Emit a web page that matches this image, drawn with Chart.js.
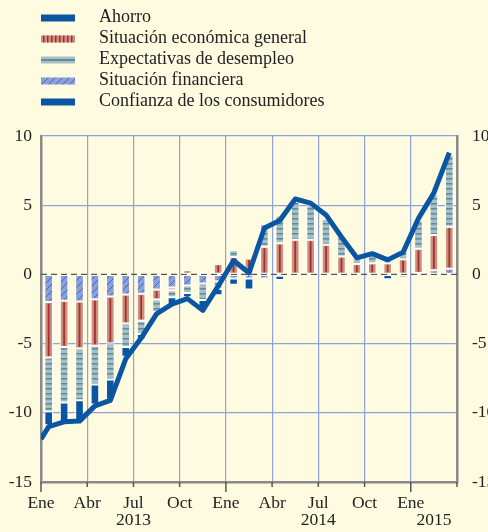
<!DOCTYPE html>
<html>
<head>
<meta charset="utf-8">
<script src="https://cdn.jsdelivr.net/npm/chart.js@4.4.1/dist/chart.umd.min.js"></script>
<style>
html, body { margin: 0; padding: 0; background: #fffbe0; overflow: hidden; }
#wrap { position: relative; width: 510px; height: 532px; }
</style>
</head>
<body>
<div id="wrap"><canvas id="myChart"></canvas></div>
<script>
// contributions, monthly Jan 2013 .. Mar 2015
const financiera = [-2.0, -1.9, -1.95, -1.8, -1.6, -1.45, -1.4, -1.1, -0.95, -0.8, -0.65, -0.5, -0.3, -0.3, -0.3, -0.1, 0, -0.1, 0, -0.15, -0.1, -0.05, 0, 0, 0.1, 0.3, 0.4];
const economica = [-4.0, -3.35, -3.4, -3.35, -3.4, -2.1, -1.95, -0.72, -0.2, 0.3, 0.2, 0.75, 1.25, 1.15, 2.0, 2.25, 2.5, 2.5, 2.15, 1.3, 0.75, 0.8, 0.8, 1.1, 1.75, 2.55, 3.05];
const desempleo = [-3.9, -4.0, -3.75, -2.8, -2.6, -1.7, -0.95, -0.9, -0.5, -0.55, -1.2, -0.55, 0.5, 0, 1.65, 2.0, 2.75, 2.5, 1.85, 1.4, 0.4, 0.7, 0.55, 0.65, 2.05, 2.95, 5.2];
const ahorro = [-1.0, -1.4, -1.45, -1.45, -1.45, -0.7, -0.4, -0.1, -0.5, -0.3, -0.6, -0.45, -0.45, -0.8, 0, -0.3, 0, 0, 0, 0, 0, 0, -0.35, -0.2, 0, 0, 0];
const confianza = [-11.0, -10.65, -10.6, -9.5, -9.1, -6.1, -4.6, -2.85, -2.15, -1.75, -2.6, -0.85, 1.0, 0.1, 3.35, 3.9, 5.45, 5.15, 4.3, 2.7, 1.2, 1.5, 1.05, 1.6, 4.05, 5.9, 8.8];
const confianzaStart = -11.9; // value where the line enters at the left edge

const tickPos = [0, 3, 6, 9, 12, 15, 18, 21, 24, 27];
const tickLabels = ['Ene', 'Abr', 'Jul', 'Oct', 'Ene', 'Abr', 'Jul', 'Oct', 'Ene', ''];
const yearPos = [6, 18, 25.5];
const yearLabels = ['2013', '2014', '2015'];
const legendNames = ['Ahorro', 'Situación económica general', 'Expectativas de desempleo', 'Situación financiera', 'Confianza de los consumidores'];

const myChart = document.getElementById('myChart').getContext('2d');

const blue = '#0b56a2';
const gridColor = '#8fa2da';
const axisColor = '#8a8a8a';
const ecoBase = '#cc8e81';
const ecoLine = '#a3322c';

function makePattern(w, h, draw) {
    const c = document.createElement('canvas');
    c.width = w; c.height = h;
    const g = c.getContext('2d');
    draw(g, w, h);
    return myChart.createPattern(c, 'repeat');
}
const desFill = makePattern(4, 5, (g, w, h) => {
    g.fillStyle = '#a7bfc7'; g.fillRect(0, 0, w, h);
    g.fillStyle = '#5f8d99'; g.fillRect(0, 3, w, 1.6);
});
const finFill = makePattern(7, 7, (g, w, h) => {
    g.fillStyle = '#8b9fd9'; g.fillRect(0, 0, w, h);
    g.strokeStyle = '#3a62b2'; g.lineWidth = 0.9;
    g.beginPath();
    for (let o = -7; o <= 7; o += 7) { g.moveTo(o, 7); g.lineTo(o + 7, 0); }
    g.stroke();
});

function barSet(label, vals, fill) {
    return {
        type: 'bar', label: label,
        data: vals.map((v, i) => ({x: i + 0.5, y: v})),
        backgroundColor: fill, borderColor: '#ffffff', borderWidth: 1,
        borderSkipped: false, stack: 'c', order: 1,
        xAxisID: 'x', yAxisID: 'y',
        barPercentage: 0.56, categoryPercentage: 1
    };
}

const lineData = [{x: 0, y: confianzaStart}].concat(confianza.map((v, i) => ({x: i + 0.5, y: v})));

const fontSpec = {family: "'Liberation Serif', 'Times New Roman', serif", size: 17.5};

// x axes: no extra side padding for first/last labels
function fitX(h) {
    return s => { s.height = h; s.paddingLeft = 0; s.paddingRight = 0; };
}

const backgroundPlugin = {
    id: 'bg',
    beforeDraw(chart) {
        const c = chart.ctx;
        c.save();
        c.fillStyle = '#fffbe0';
        c.fillRect(0, 0, chart.width, chart.height);
        c.restore();
    }
};

const zeroLinePlugin = {
    id: 'zeroLine',
    beforeDatasetsDraw(chart) {
        const c = chart.ctx, a = chart.chartArea;
        const y0 = chart.scales.y.getPixelForValue(0);
        c.save();
        c.strokeStyle = '#555555'; c.lineWidth = 1.2;
        c.setLineDash([6, 4]);
        c.beginPath(); c.moveTo(a.left, y0); c.lineTo(a.right, y0); c.stroke();
        c.restore();
    }
};

const ecoStripePlugin = {
    id: 'ecoStripe',
    afterDatasetDraw(chart, args) {
        if (args.index !== 1) return;
        const c = chart.ctx;
        c.save();
        c.strokeStyle = ecoLine; c.lineWidth = 1.8;
        args.meta.data.forEach(el => {
            const p = el.getProps(['x', 'y', 'base'], true);
            if (Math.abs(p.y - p.base) < 3) return;
            const top = Math.min(p.y, p.base) + 1.5, bot = Math.max(p.y, p.base) - 1.5;
            c.beginPath(); c.moveTo(p.x, top); c.lineTo(p.x, bot); c.stroke();
        });
        c.restore();
    }
};

const xTickPlugin = {
    id: 'xTicks',
    afterDraw(chart) {
        const c = chart.ctx, xs = chart.scales.x;
        const yb = chart.chartArea.bottom;
        c.save();
        c.strokeStyle = '#555555'; c.lineWidth = 1.5;
        tickPos.forEach(v => {
            const px = xs.getPixelForValue(v);
            const len = (v % 12 === 0 && v < 27) ? 10 : 5;
            c.beginPath(); c.moveTo(px, yb); c.lineTo(px, yb + len); c.stroke();
        });
        c.restore();
    }
};

const legendPlugin = {
    id: 'customLegend',
    afterDraw(chart) {
        const c = chart.ctx;
        const x0 = 41, w = 34, h = 7, tx = 99;
        c.save();
        c.font = "18px 'Liberation Serif', 'Times New Roman', serif";
        c.textBaseline = 'alphabetic';
        legendNames.forEach((name, i) => {
            const cy = 18 + i * 21;
            const top = cy - h / 2;
            if (i === 0 || i === 4) {
                c.fillStyle = blue; c.fillRect(x0, top, w, h);
            } else if (i === 1) {
                c.fillStyle = ecoBase; c.fillRect(x0, top, w, h);
                c.fillStyle = ecoLine;
                for (let s = x0 + 2; s < x0 + w; s += 4) c.fillRect(s, top, 1.5, h);
            } else if (i === 2) {
                c.fillStyle = '#a7bfc7'; c.fillRect(x0, top, w, h);
                c.fillStyle = '#5f8d99'; c.fillRect(x0, cy - 1, w, 2);
            } else {
                c.fillStyle = finFill; c.fillRect(x0, top, w, h);
            }
            c.fillStyle = '#222222';
            c.fillText(name, tx, cy + 4);
        });
        c.restore();
    }
};

new Chart(myChart, {
    data: {
        datasets: [
            barSet('Situación financiera', financiera, finFill),
            barSet('Situación económica general', economica, ecoBase),
            barSet('Expectativas de desempleo', desempleo, desFill),
            barSet('Ahorro', ahorro, blue),
            {
                type: 'line', label: 'Confianza de los consumidores',
                data: lineData, xAxisID: 'x', yAxisID: 'yR',
                borderColor: blue, borderWidth: 5, pointRadius: 0,
                tension: 0, fill: false, order: 0,
                borderJoinStyle: 'round'
            }
        ]
    },
    options: {
        responsive: true,
        maintainAspectRatio: false,
        animation: false,
        layout: {padding: {top: 136, left: 0, right: 0, bottom: 0}},
        plugins: {legend: {display: false}, tooltip: {enabled: false}},
        scales: {
            x: {
                type: 'linear', position: 'bottom', min: 0, max: 27, weight: 0, offset: false,
                afterBuildTicks: s => { s.ticks = tickPos.map(v => ({value: v})); },
                afterFit: fitX(28),
                ticks: {
                    callback: (v, i) => tickLabels[i], autoSkip: false, maxRotation: 0,
                    padding: 11, font: fontSpec, color: '#222222'
                },
                grid: {
                    offset: false,
                    color: c => (c.tick && (c.tick.value === 0 || c.tick.value === 27)) ? 'rgba(0,0,0,0)' : gridColor,
                    lineWidth: 1.2, drawTicks: false
                },
                border: {color: axisColor, width: 2.5}
            },
            xYear: {
                type: 'linear', position: 'bottom', min: 0, max: 27, weight: 1, offset: false,
                afterBuildTicks: s => { s.ticks = yearPos.map(v => ({value: v})); },
                afterFit: fitX(22),
                ticks: {
                    callback: (v, i) => yearLabels[i], autoSkip: false, maxRotation: 0,
                    padding: 0, font: fontSpec, color: '#222222'
                },
                grid: {display: false, drawTicks: false, offset: false},
                border: {display: false}
            },
            y: {
                type: 'linear', position: 'left', min: -15, max: 10, stacked: true,
                afterFit: s => { s.width = 41; },
                ticks: {stepSize: 5, padding: 9, font: fontSpec, color: '#222222'},
                grid: {
                    color: c => (c.tick && (c.tick.value === 0 || c.tick.value === -15)) ? 'rgba(0,0,0,0)' : gridColor,
                    lineWidth: 1.2, drawTicks: false
                },
                border: {color: axisColor, width: 2.5}
            },
            yR: {
                type: 'linear', position: 'right', min: -15, max: 10,
                afterFit: s => { s.width = 53; },
                ticks: {stepSize: 5, padding: 15, font: fontSpec, color: '#222222'},
                grid: {drawOnChartArea: false, drawTicks: false},
                border: {color: axisColor, width: 2.5}
            }
        }
    },
    plugins: [backgroundPlugin, zeroLinePlugin, ecoStripePlugin, xTickPlugin, legendPlugin]
});
</script>
</body>
</html>
